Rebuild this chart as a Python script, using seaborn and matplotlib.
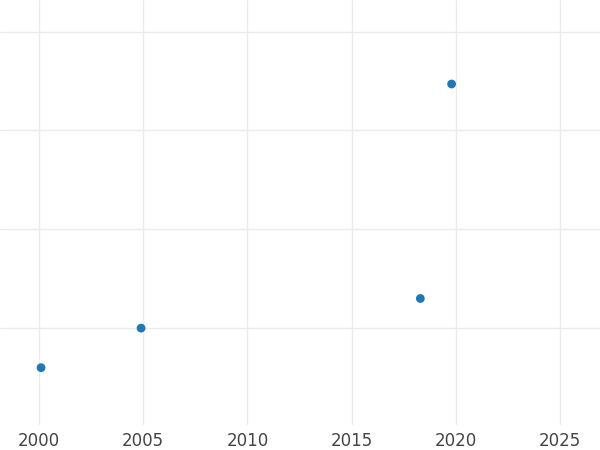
import matplotlib
matplotlib.use('Agg')
import matplotlib.pyplot as plt
import seaborn as sns
import pandas as pd

years = [2000.1, 2004.9, 2018.3, 2019.8]
values = [0.6, 1.0, 1.3, 3.47]
df = pd.DataFrame({'year': years, 'value': values})

sns.set_style('white')
fig = plt.figure(figsize=(6, 4.5), dpi=100)
ax = fig.add_axes([0, 25 / 450, 1, 425 / 450])
sns.scatterplot(data=df, x='year', y='value', ax=ax, s=40, color='#1f77b4',
                edgecolor='none', zorder=3)
ax.set_xlim(1998.13, 2026.92)
ax.set_ylim(0.02, 4.32)
ax.set_xticks([2000, 2005, 2010, 2015, 2020, 2025])
ax.set_yticks([1, 2, 3, 4])
ax.set_yticklabels([])
ax.grid(True, color='#ebebeb', linewidth=1)
ax.tick_params(axis='x', labelsize=12, colors='#444444', length=0, pad=5)
ax.tick_params(axis='y', length=0)
ax.set_xlabel('')
ax.set_ylabel('')
for s in ax.spines.values():
    s.set_visible(False)
fig.savefig('out.png', dpi=100)
